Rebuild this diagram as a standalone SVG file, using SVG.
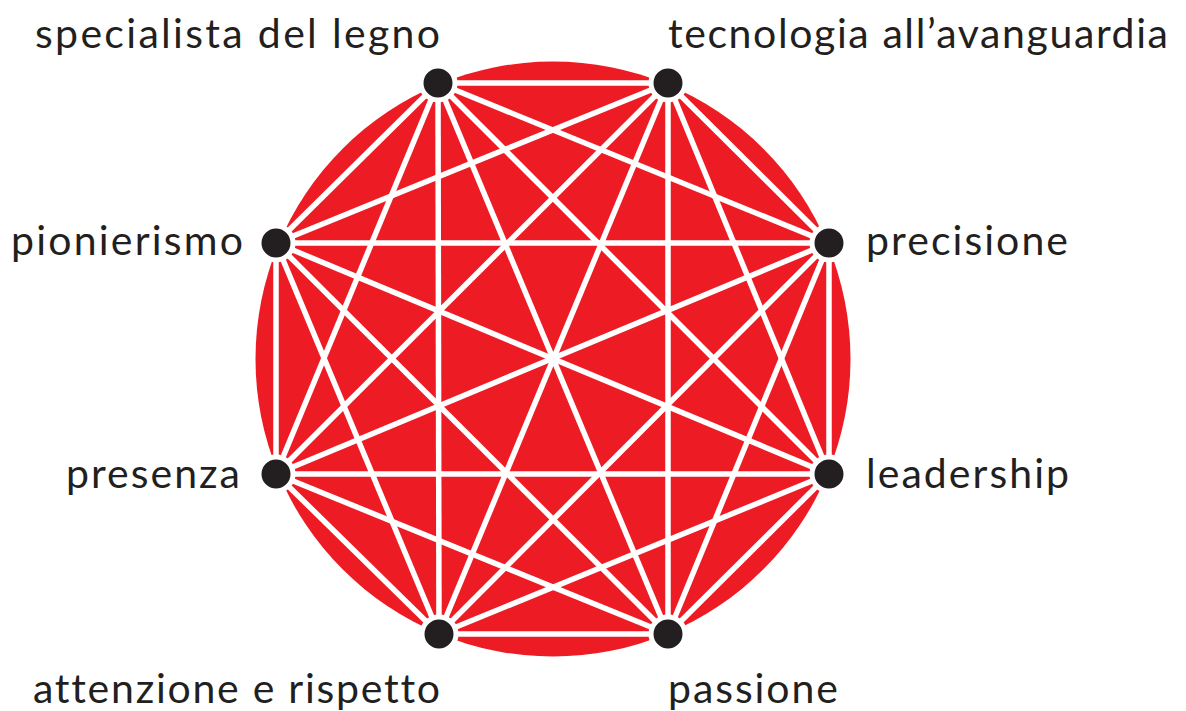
<svg xmlns="http://www.w3.org/2000/svg" width="1186" height="711" viewBox="0 0 1186 711">
<style>
.lbl{font-family:Lato,"Noto Sans","Liberation Sans",sans-serif;font-size:41px;fill:#231f20;font-variant-ligatures:none;font-feature-settings:"liga" 0}
.edge{stroke:#ffffff;stroke-width:5.5;stroke-linecap:butt}
.dot{fill:#231f20;stroke:#ffffff;stroke-width:5}
</style>
<rect width="1186" height="711" fill="#ffffff"/>
<circle id="disc" cx="553" cy="359" r="297.5" fill="#ed1c24"/>
<g id="connectors">
<line class="edge" x1="438" y1="83" x2="668" y2="83"/>
<line class="edge" x1="438" y1="83" x2="829" y2="243"/>
<line class="edge" x1="438" y1="83" x2="829" y2="474"/>
<line class="edge" x1="438" y1="83" x2="668" y2="634"/>
<line class="edge" x1="438" y1="83" x2="439" y2="634"/>
<line class="edge" x1="438" y1="83" x2="276" y2="474"/>
<line class="edge" x1="438" y1="83" x2="276" y2="243"/>
<line class="edge" x1="668" y1="83" x2="829" y2="243"/>
<line class="edge" x1="668" y1="83" x2="829" y2="474"/>
<line class="edge" x1="668" y1="83" x2="668" y2="634"/>
<line class="edge" x1="668" y1="83" x2="439" y2="634"/>
<line class="edge" x1="668" y1="83" x2="276" y2="474"/>
<line class="edge" x1="668" y1="83" x2="276" y2="243"/>
<line class="edge" x1="829" y1="243" x2="829" y2="474"/>
<line class="edge" x1="829" y1="243" x2="668" y2="634"/>
<line class="edge" x1="829" y1="243" x2="439" y2="634"/>
<line class="edge" x1="829" y1="243" x2="276" y2="474"/>
<line class="edge" x1="829" y1="243" x2="276" y2="243"/>
<line class="edge" x1="829" y1="474" x2="668" y2="634"/>
<line class="edge" x1="829" y1="474" x2="439" y2="634"/>
<line class="edge" x1="829" y1="474" x2="276" y2="474"/>
<line class="edge" x1="829" y1="474" x2="276" y2="243"/>
<line class="edge" x1="668" y1="634" x2="439" y2="634"/>
<line class="edge" x1="668" y1="634" x2="276" y2="474"/>
<line class="edge" x1="668" y1="634" x2="276" y2="243"/>
<line class="edge" x1="439" y1="634" x2="276" y2="474"/>
<line class="edge" x1="439" y1="634" x2="276" y2="243"/>
<line class="edge" x1="276" y1="474" x2="276" y2="243"/>
</g>
<g id="n-specialista"><circle class="dot" cx="438" cy="83" r="17"/><text class="lbl" x="440" y="48" text-anchor="end" textLength="405">specialista del legno</text></g>
<g id="n-tecnologia"><circle class="dot" cx="668" cy="83" r="17"/><text class="lbl" x="668" y="48" textLength="500">tecnologia all’avanguardia</text></g>
<g id="n-precisione"><circle class="dot" cx="829" cy="243" r="17"/><text class="lbl" x="866" y="255" textLength="202">precisione</text></g>
<g id="n-leadership"><circle class="dot" cx="829" cy="474" r="17"/><text class="lbl" x="866" y="488" textLength="203">leadership</text></g>
<g id="n-passione"><circle class="dot" cx="668" cy="634" r="17"/><text class="lbl" x="668" y="703" textLength="170">passione</text></g>
<g id="n-attenzione"><circle class="dot" cx="439" cy="634" r="17"/><text class="lbl" x="440" y="703" text-anchor="end" textLength="407">attenzione e rispetto</text></g>
<g id="n-presenza"><circle class="dot" cx="276" cy="474" r="17"/><text class="lbl" x="240" y="488" text-anchor="end" textLength="174">presenza</text></g>
<g id="n-pionierismo"><circle class="dot" cx="276" cy="243" r="17"/><text class="lbl" x="243" y="255" text-anchor="end" textLength="232">pionierismo</text></g>
</svg>
